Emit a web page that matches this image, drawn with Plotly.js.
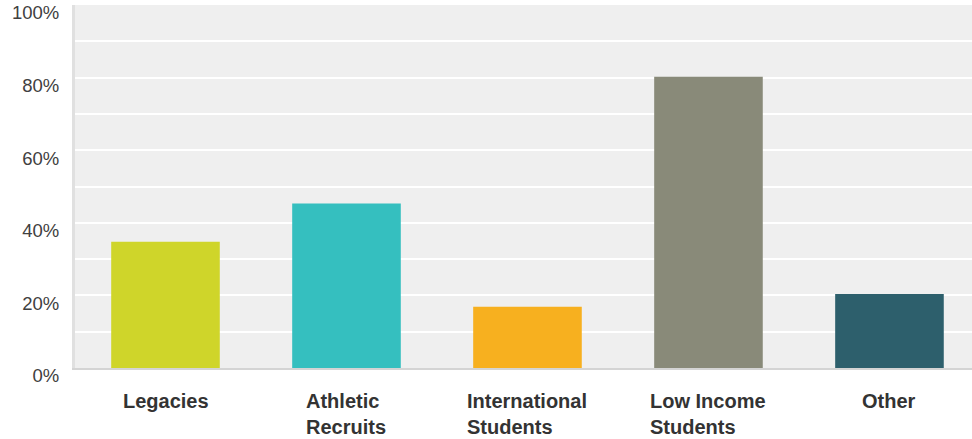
<!DOCTYPE html>
<html>
<head>
<meta charset="utf-8">
<script src="https://cdn.plot.ly/plotly-3.0.1.min.js"></script>
<style>html,body{margin:0;padding:0;background:#fff;}</style>
</head>
<body>
<div id="chart" style="width:972px;height:439px;"></div>
<script>
const categories = ["Legacies", "Athletic Recruits", "International Students", "Low Income Students", "Other"];
const categoryLabels = ["Legacies", "Athletic<br>Recruits", "International<br>Students", "Low Income<br>Students", "Other"];
const values = [34.8, 45.3, 16.9, 80.2, 20.4];
const yTickVals = [0, 20, 40, 60, 80, 100];
const yTickText = ["0%", "20%", "40%", "60%", "80%", "100%"];
const barColors = ["#cfd52a", "#35bfbf", "#f7b01f", "#898a79", "#2d5f6c"];

const trace = {
  type: "bar",
  x: categories,
  y: values,
  marker: { color: barColors },
  hoverinfo: "none"
};

const annotations = categories.map((c, i) => ({
  x: c, xref: "x", y: 0, yref: "paper",
  yanchor: "top", xanchor: "center",
  yshift: -20,
  text: categoryLabels[i],
  align: "left",
  showarrow: false,
  font: { family: "Liberation Sans, Arial, sans-serif", size: 20, color: "#333333", weight: "bold" }
}));

const layout = {
  width: 972, height: 439,
  margin: { l: 75, r: 0, t: 5, b: 71, pad: 0 },
  paper_bgcolor: "#ffffff",
  plot_bgcolor: "#efefef",
  bargap: 0.4,
  showlegend: false,
  font: { family: "Liberation Sans, Arial, sans-serif" },
  xaxis: {
    type: "category",
    range: [-0.5, 4.456],
    showticklabels: false,
    ticks: "",
    showgrid: false,
    zeroline: false,
    showline: true,
    linecolor: "#d4d4d4",
    linewidth: 2,
    fixedrange: true
  },
  yaxis: {
    range: [0, 100],
    tickvals: yTickVals,
    ticktext: yTickText,
    ticks: "",
    ticklabelstandoff: 9,
    ticklabelshift: 8,
    tickfont: { size: 18.5, color: "#404040" },
    showgrid: true,
    gridcolor: "#ffffff",
    gridwidth: 2,
    minor: { dtick: 10, tick0: 0, showgrid: true, gridcolor: "#ffffff", gridwidth: 2, ticks: "" },
    zeroline: false,
    showline: true,
    linecolor: "#e0e0e0",
    linewidth: 3,
    fixedrange: true
  },
  annotations: annotations
};

Plotly.newPlot("chart", [trace], layout, { displayModeBar: false, staticPlot: true });
</script>
</body>
</html>
